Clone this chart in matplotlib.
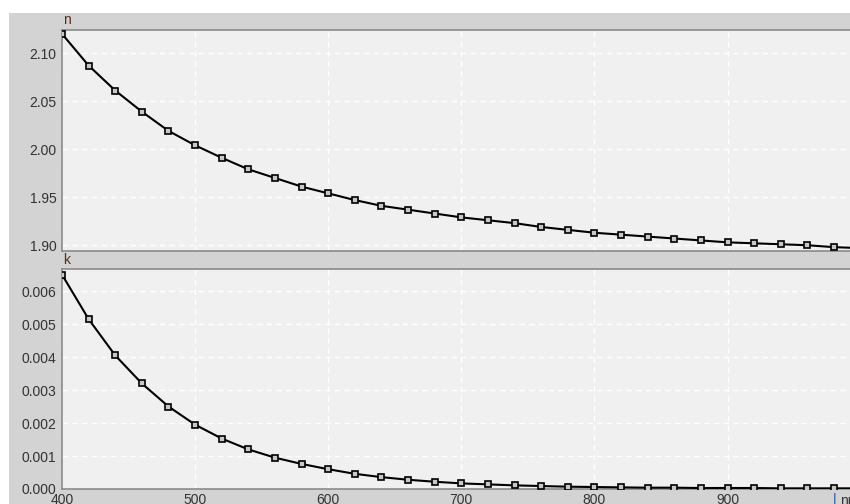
import matplotlib.pyplot as plt
import matplotlib.patches as patches
import numpy as np

# wavelength, nm
wl = [400, 420, 440, 460, 480, 500, 520, 540, 560, 580,
      600, 620, 640, 660, 680, 700, 720, 740, 760, 780,
      800, 820, 840, 860, 880, 900, 920, 940, 960, 980, 1000]

# refractive index n
n_vals = [2.120, 2.087, 2.061, 2.039, 2.019, 2.004, 1.991, 1.979, 1.970, 1.961,
          1.954, 1.947, 1.941, 1.937, 1.933, 1.929, 1.926, 1.923, 1.919, 1.916,
          1.913, 1.911, 1.909, 1.907, 1.905, 1.903, 1.902, 1.901, 1.900, 1.898, 1.897]

# extinction coefficient k
k_vals = [0.00650, 0.00515, 0.00405, 0.00320, 0.00250, 0.00195, 0.00153, 0.00120,
          0.00095, 0.00076, 0.00060, 0.00046, 0.00036, 0.00028, 0.00022, 0.00017,
          0.00014, 0.00011, 0.00009, 0.00007, 0.00006, 0.00005, 0.00004, 0.00004,
          0.00003, 0.00003, 0.00003, 0.00002, 0.00002, 0.00002, 0.00002]

n_ticks = [1.90, 1.95, 2.00, 2.05, 2.10]
k_ticks = [0.000, 0.001, 0.002, 0.003, 0.004, 0.005, 0.006]
x_ticks = [400, 500, 600, 700, 800, 900]

W, H = 850, 504
plt.rcParams['font.family'] = ['Liberation Sans', 'DejaVu Sans']

fig = plt.figure(figsize=(W / 100, H / 100), dpi=100)
fig.patch.set_facecolor('white')

# grey panel behind everything
fig.patches.append(patches.Rectangle((9 / W, 0), 1 - 9 / W, 1 - 13 / H,
                                     transform=fig.transFigure,
                                     facecolor='#d3d3d3', edgecolor='none', zorder=-10))

left = 62 / W
ax1 = fig.add_axes([left, 1 - 251 / H, 1 - left, 221 / H])
ax2 = fig.add_axes([left, 1 - 489 / H, 1 - left, 220 / H])

for ax, y, ticks, lim, fmt in [(ax1, n_vals, n_ticks, (1.894, 2.124), '{:.2f}'),
                               (ax2, k_vals, k_ticks, (0.0, 0.00667), '{:.3f}')]:
    ax.set_facecolor('#f0f0f0')
    ax.plot(wl, y, '-', color='black', lw=1.5, marker='s', ms=5,
            mfc='#c8c8c8', mec='black', mew=1.2, clip_on=True, zorder=3)
    ax.set_xlim(400, 992)
    ax.set_ylim(*lim)
    ax.set_yticks(ticks)
    ax.set_yticklabels([fmt.format(t) for t in ticks])
    ax.set_xticks(x_ticks)
    ax.grid(True, color='white', ls=(0, (4, 3)), lw=1)
    ax.set_axisbelow(True)
    ax.tick_params(length=0, pad=4, labelsize=10, colors='#333333')
    for s in ['left', 'top', 'bottom']:
        ax.spines[s].set_color('#8a8a8a')
        ax.spines[s].set_linewidth(1.2)
    ax.spines['right'].set_visible(False)

ax1.tick_params(labelbottom=False)
ax2.tick_params(axis='x', pad=3)

fig.text(63 / W, 1 - 20 / H, 'n', color='#5a2a20', fontsize=10, va='center', ha='left')
fig.text(63 / W, 1 - 260 / H, 'k', color='#5a2a20', fontsize=10, va='center', ha='left')
fig.text(833 / W, 1 - 500 / H, '|', color='#2050a0', fontsize=10, va='center', ha='left')
fig.text(840 / W, 1 - 501 / H, 'nm', color='#333333', fontsize=10, va='center', ha='left')

fig.savefig('out.png', dpi=100)
